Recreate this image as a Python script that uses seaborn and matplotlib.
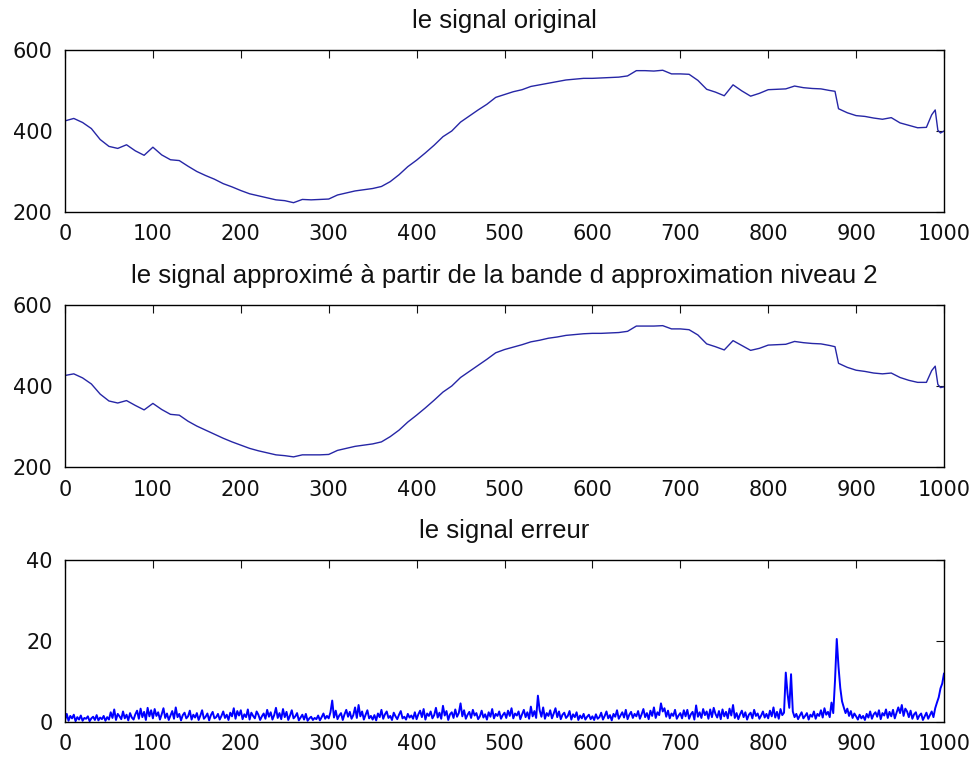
import matplotlib
matplotlib.use("Agg")
import matplotlib.pyplot as plt
import seaborn as sns
import pandas as pd

# Sample positions and amplitude of the original signal
orig_x = [0, 10, 20, 30, 40, 50, 60, 70, 80, 90, 100, 110, 120, 130, 140, 150, 160, 170, 180, 190,
          200, 210, 220, 230, 240, 250, 260, 270, 280, 290, 300, 310, 320, 330, 340, 350, 360, 370, 380, 390,
          400, 410, 420, 430, 440, 450, 460, 470, 480, 490, 500, 510, 520, 530, 540, 550, 560, 570, 580, 590,
          600, 610, 620, 630, 640, 650, 660, 670, 680, 690, 700, 710, 720, 730, 740, 750, 760, 770, 780, 790,
          800, 810, 820, 830, 840, 850, 860, 870, 876, 880, 890, 900, 910, 920, 930, 940, 950, 960, 970, 980,
          986, 990, 993, 996, 1000]
orig_y = [425, 431, 421, 406, 379, 362, 357, 366, 351, 340, 360, 341, 329, 327, 313, 300, 290, 281, 270, 262,
          253, 245, 240, 235, 230, 228, 223, 231, 230, 231, 232, 242, 247, 252, 255, 258, 263, 275, 292, 312,
          328, 346, 365, 386, 400, 422, 437, 452, 466, 483, 490, 497, 502, 510, 514, 518, 522, 526, 528, 530,
          530, 531, 532, 533, 536, 549, 549, 548, 550, 541, 541, 540, 525, 503, 496, 487, 514, 499, 486, 493,
          502, 503, 504, 511, 507, 505, 504, 500, 498, 455, 445, 438, 436, 432, 429, 433, 420, 414, 408, 409,
          440, 452, 402, 395, 400]

# Approximation rebuilt from the level-2 approximation band
approx_x = orig_x
approx_y = [426, 430, 420, 405, 380, 363, 358, 364, 352, 341, 357, 342, 330, 328, 313, 301, 291, 281, 271, 262,
            254, 246, 240, 235, 230, 228, 225, 230, 230, 230, 231, 241, 246, 251, 254, 257, 262, 275, 291, 311,
            328, 346, 365, 385, 400, 421, 436, 451, 466, 482, 490, 496, 502, 509, 513, 518, 521, 525, 527, 529,
            530, 530, 531, 532, 535, 548, 548, 548, 549, 541, 541, 539, 526, 504, 497, 489, 512, 500, 488, 493,
            501, 502, 503, 510, 507, 505, 504, 500, 497, 456, 446, 439, 436, 432, 430, 432, 421, 414, 409, 409,
            438, 449, 404, 396, 398]

# Absolute error between the two signals, every 2 samples
err_x = list(range(0, 1001, 2))
err_y = [
    0.4, 2.0, 0.3, 1.5, 0.9, 1.8, 0.2, 1.2, 0.6, 1.6, 0.3, 1.0, 0.8, 1.4, 0.2, 0.9, 1.3, 0.5, 1.7, 0.4, 1.1, 0.7, 1.5, 0.3, 1.2,
    0.6, 2.4, 1.0, 3.1, 0.5, 2.0, 1.4, 0.7, 2.6, 0.9, 1.8, 0.4, 2.2, 1.1, 0.6, 1.9, 2.8, 0.8, 3.3, 1.2, 2.5, 0.5, 3.5, 1.4, 2.9,
    0.9, 3.2, 1.5, 2.4, 0.6, 1.9, 3.4, 1.0, 2.1, 0.5, 1.6, 2.7, 0.8, 3.6, 1.2, 2.0, 0.4, 1.7, 2.3, 0.9, 1.4, 2.8, 0.6, 1.8, 1.1,
    2.2, 0.5, 1.6, 2.9, 0.8, 1.3, 2.1, 0.4, 1.7, 2.5, 0.9, 1.2, 2.0, 0.6, 1.5, 2.6, 1.0, 1.8, 0.5, 2.3, 1.4, 3.4, 0.8, 2.7, 1.6,
    2.9, 0.7, 1.9, 1.2, 3.1, 0.6, 2.3, 1.5, 0.9, 2.6, 1.8, 0.5, 1.4, 2.1, 0.8, 3.0, 1.3, 2.4, 0.6, 1.7, 3.5, 1.0, 2.2, 0.7, 3.2,
    1.2, 2.5, 0.5, 1.6, 2.9, 0.9, 1.4, 2.2, 0.4, 1.1, 1.8, 0.6, 2.0, 0.3, 0.9, 1.3, 0.5, 1.0, 0.7, 1.6, 0.4, 1.2, 2.1, 0.8, 1.5,
    0.9, 2.4, 5.3, 1.1, 2.8, 0.7, 1.6, 2.2, 0.5, 1.9, 3.0, 1.3, 2.5, 0.8, 1.7, 3.6, 1.0, 4.2, 1.4, 2.6, 0.6, 1.8, 2.9, 0.9, 1.5,
    0.6, 1.7, 0.4, 2.1, 1.2, 3.0, 0.8, 1.9, 2.6, 1.0, 1.5, 0.5, 2.3, 1.4, 0.7, 1.8, 2.7, 0.9, 1.3, 0.6, 2.0, 1.1, 1.6, 0.8, 2.4,
    0.7, 1.9, 2.8, 1.2, 3.2, 0.6, 2.1, 1.5, 2.6, 0.9, 1.7, 3.5, 1.1, 2.3, 0.8, 4.0, 1.6, 2.7, 0.5, 1.9, 2.4, 1.0, 3.1, 1.3, 2.2,
    4.6, 1.4, 2.9, 0.8, 1.8, 2.5, 1.0, 3.0, 1.6, 2.2, 0.7, 1.4, 2.8, 1.1, 1.9, 0.6, 2.4, 1.3, 3.2, 0.9, 2.0, 1.5, 2.6, 0.8, 1.7,
    2.3, 1.0, 2.8, 1.5, 3.4, 0.9, 2.1, 1.6, 2.6, 0.7, 1.9, 3.0, 1.2, 2.4, 0.8, 3.8, 1.4, 2.7, 1.0, 6.5, 2.9, 1.3, 3.6, 0.8, 2.2,
    1.5, 2.9, 0.9, 2.1, 3.4, 1.2, 2.6, 0.7, 1.8, 2.3, 1.0, 1.5, 2.7, 0.6, 1.9, 1.2, 2.4, 0.5, 1.6, 0.9, 2.0, 0.6, 1.3, 1.8, 0.7,
    1.4, 0.5, 1.9, 0.8, 1.2, 2.3, 0.6, 1.5, 2.6, 0.9, 1.7, 0.4, 2.0, 1.3, 2.9, 0.8, 1.6, 2.4, 1.1, 3.0, 0.7, 1.8, 2.5, 1.0, 2.0,
    1.4, 2.7, 0.8, 1.9, 3.2, 1.2, 2.2, 0.7, 2.8, 1.5, 3.6, 1.0, 2.4, 1.7, 4.6, 2.6, 3.4, 1.3, 2.8, 0.9, 2.1, 1.5, 3.0, 0.8, 1.6,
    2.2, 0.9, 2.9, 1.4, 3.0, 0.8, 1.9, 2.5, 0.6, 4.1, 1.3, 2.4, 1.0, 3.2, 1.7, 2.6, 0.8, 3.1, 1.2, 3.5, 2.0, 1.1, 2.7, 0.7, 3.1,
    1.4, 2.5, 0.9, 3.3, 1.6, 4.2, 1.0, 2.2, 0.7, 1.9, 2.8, 1.2, 2.4, 0.6, 1.8, 2.3, 0.9, 3.0, 1.5, 2.1, 0.8, 1.6, 2.6, 1.1, 2.0,
    0.9, 2.8, 1.4, 3.6, 1.1, 2.5, 0.8, 3.2, 1.7, 2.3, 12.2, 7.0, 3.5, 11.8, 2.6, 1.2, 2.0, 0.7, 1.6, 2.4, 0.9, 1.5, 2.2, 0.6, 1.8,
    1.3, 2.6, 0.8, 2.0, 1.5, 2.9, 1.1, 3.4, 1.8, 2.5, 1.2, 4.8, 2.2, 10.2, 20.5, 13.6, 8.4, 5.1, 3.6, 2.2, 3.3, 1.5, 2.7, 1.0, 2.1,
    1.4, 0.6, 1.8, 0.9, 1.5, 0.5, 2.0, 1.1, 2.6, 0.8, 1.9, 2.4, 1.3, 2.9, 0.7, 2.2, 1.6, 3.1, 1.0, 2.5, 1.4, 3.0, 0.9, 2.3, 3.6,
    2.2, 4.2, 1.5, 3.3, 2.6, 1.2, 2.8, 0.8, 1.9, 2.4, 0.7, 1.6, 2.1, 0.5, 1.4, 2.3, 0.8, 1.7, 2.6, 1.2, 3.4, 4.8, 6.1, 8.3, 9.5,
    12.0,
]

titles = ["le signal original",
          "le signal approximé à partir de la bande d approximation niveau 2",
          "le signal erreur"]
x_ticks = [0, 100, 200, 300, 400, 500, 600, 700, 800, 900, 1000]
y_ticks_signal = [200, 400, 600]
y_ticks_error = [0, 20, 40]

sns.set_theme(style="white")
plt.rcParams["font.family"] = ["Liberation Sans", "DejaVu Sans"]

fig = plt.figure(figsize=(9.77, 7.61), dpi=100)
W, H = 977, 761
left, width = 65 / W, 879 / W
boxes = [(50, 212), (305, 467), (560, 722)]

panels = [
    (orig_x, orig_y, y_ticks_signal, "#2626a6", 1.0),
    (approx_x, approx_y, y_ticks_signal, "#2626a6", 1.0),
    (err_x, err_y, y_ticks_error, "#0000ff", 1.4),
]

for (top, bottom), (xs, ys, yt, col, lw), title in zip(boxes, panels, titles):
    ax = fig.add_axes([left, 1 - bottom / H, width, (bottom - top) / H])
    df = pd.DataFrame({"n": xs, "v": ys})
    sns.lineplot(data=df, x="n", y="v", ax=ax, color=col, linewidth=lw)
    ax.set_xlim(0, 1000)
    ax.set_ylim(yt[0], yt[-1])
    ax.set_xticks(x_ticks)
    ax.set_yticks(yt)
    ax.set_xlabel("")
    ax.set_ylabel("")
    ax.set_title(title, fontsize=18.5, color="#111111", pad=16,
                 family=["Liberation Sans", "DejaVu Sans"])
    ax.tick_params(direction="in", length=6, width=0.8, top=True, right=True,
                   labelsize=15, colors="#111111")
    ax.tick_params(axis="x", pad=9)
    ax.tick_params(axis="y", pad=9)
    for lab in ax.get_xticklabels() + ax.get_yticklabels():
        lab.set_family(["DejaVu Sans"])
    for s in ax.spines.values():
        s.set_color("black")
        s.set_linewidth(1.0)
        s.set_visible(True)

fig.savefig("out.png", dpi=100, facecolor="white")
